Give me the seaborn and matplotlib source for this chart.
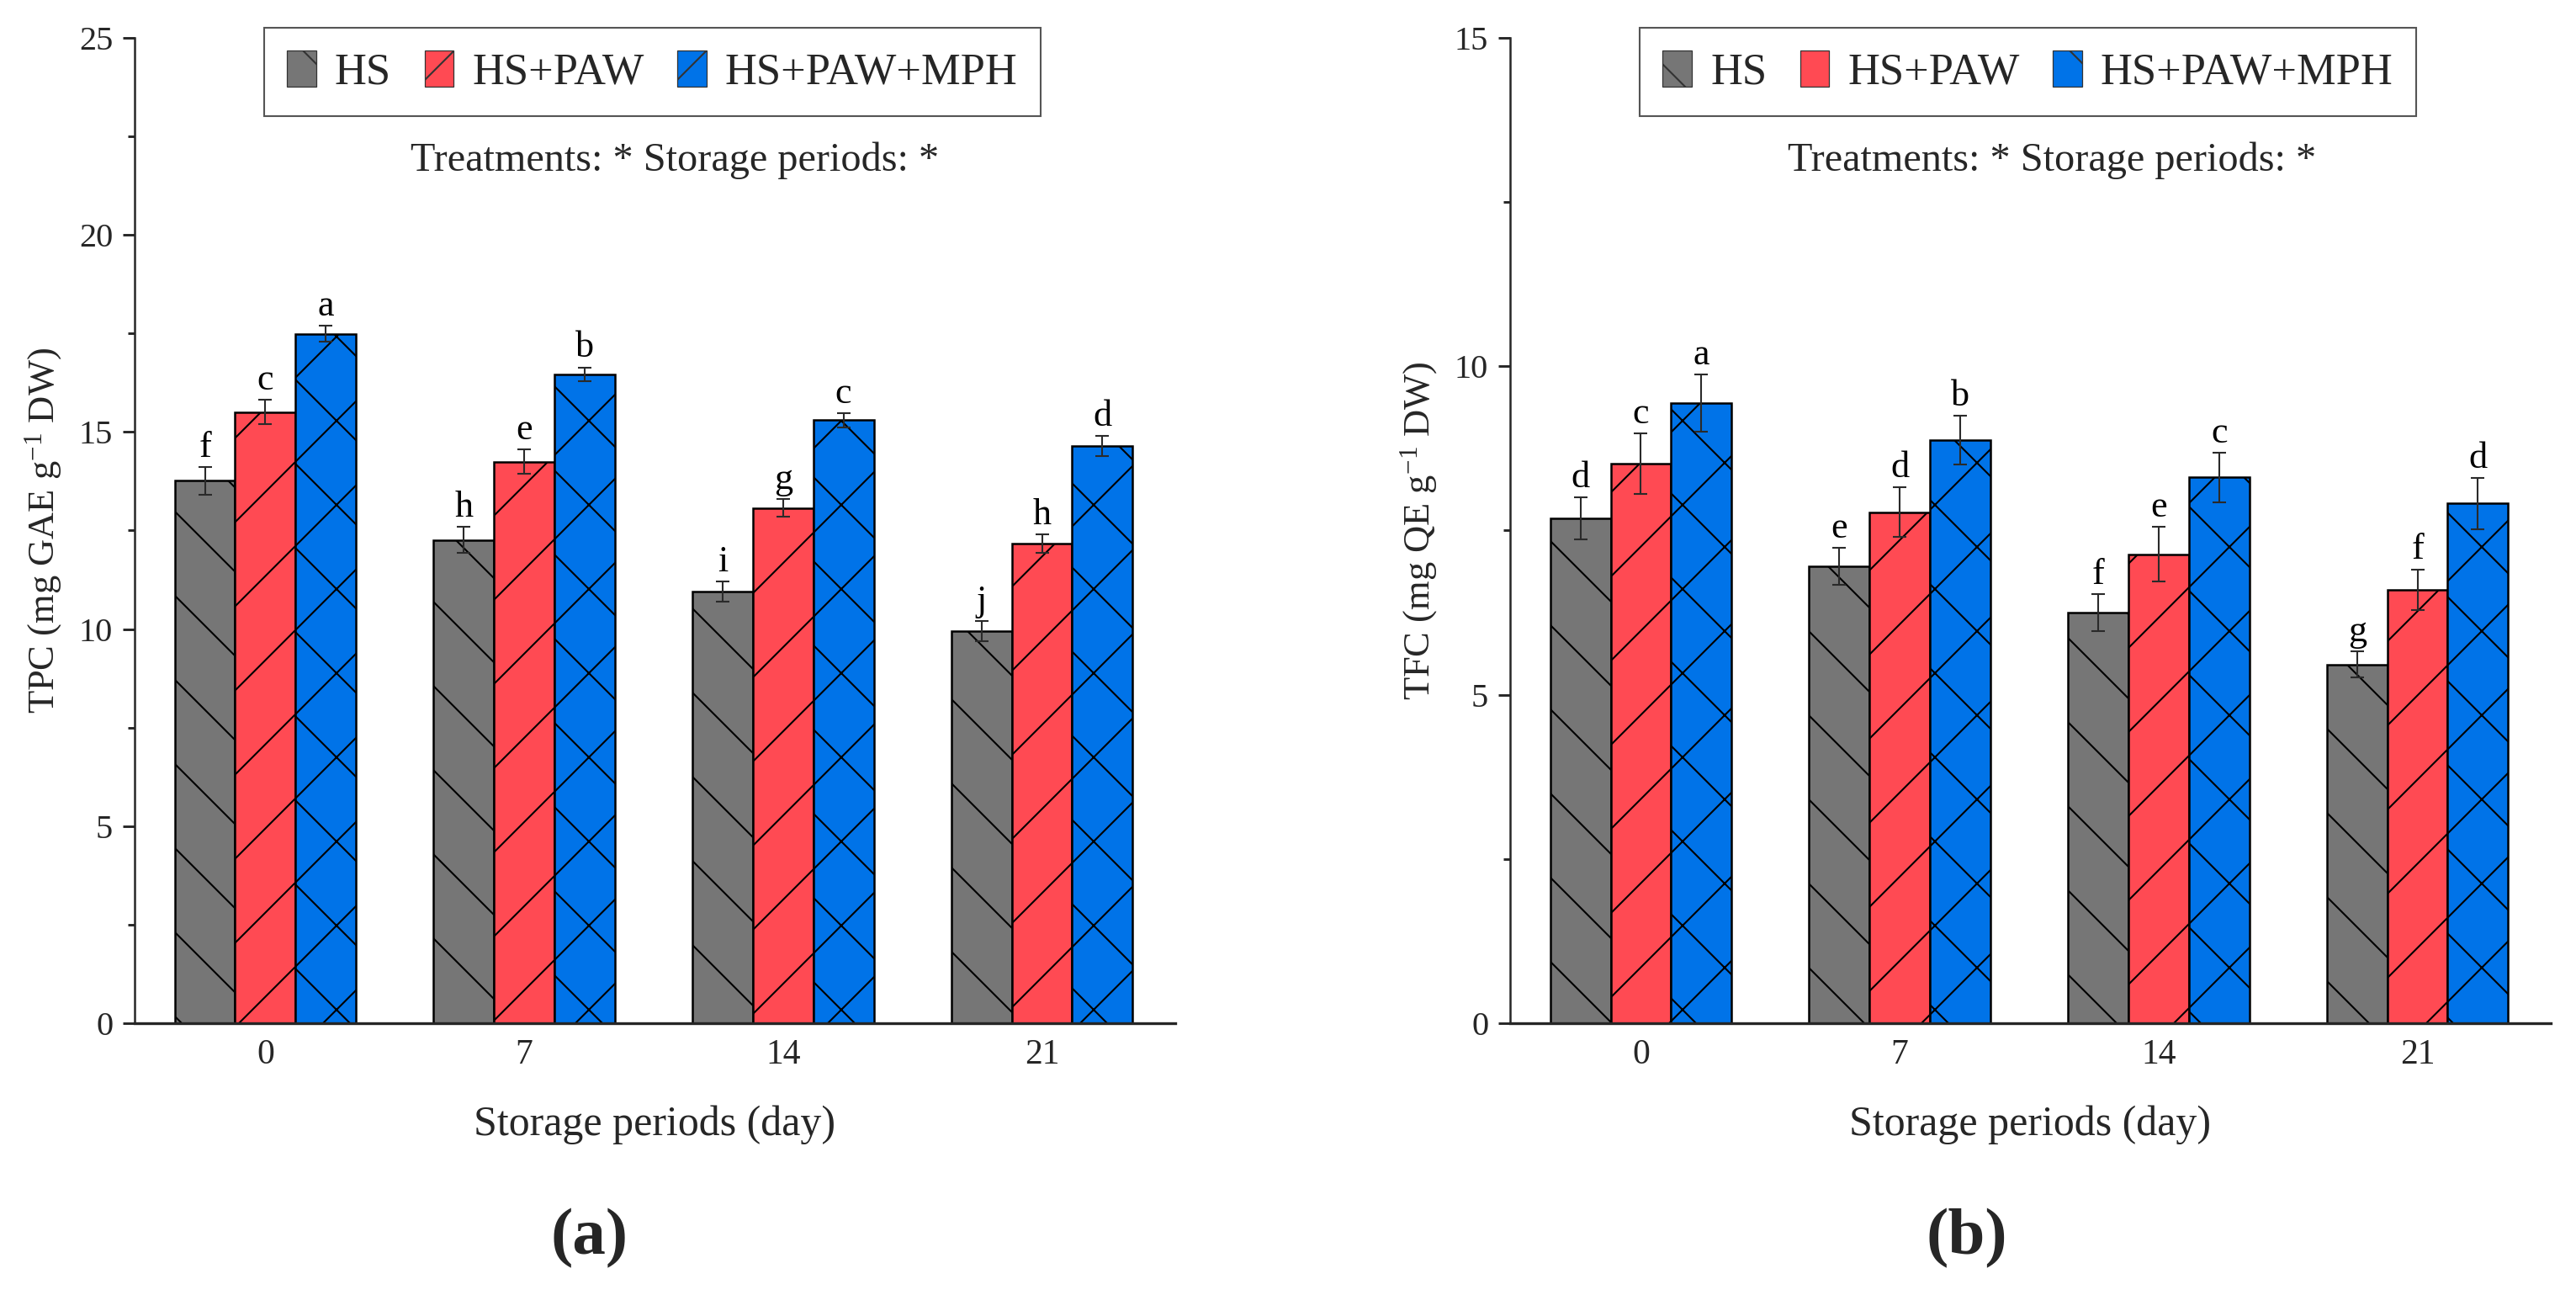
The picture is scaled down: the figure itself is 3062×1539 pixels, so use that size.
import numpy as np
import pandas as pd
import matplotlib
matplotlib.use("Agg")
import matplotlib.pyplot as plt
import matplotlib.patches as mpatches
from matplotlib.container import BarContainer
from matplotlib.ticker import MultipleLocator
import seaborn as sns

# ---------------- data ----------------
days = ["0", "7", "14", "21"]
treatments = ["HS", "HS+PAW", "HS+PAW+MPH"]

tpc_hs = [13.76, 12.26, 10.95, 9.95]
tpc_paw = [15.51, 14.25, 13.07, 12.17]
tpc_mph = [17.49, 16.47, 15.30, 14.65]
tpc_hs_err = [0.35, 0.33, 0.25, 0.25]
tpc_paw_err = [0.30, 0.30, 0.22, 0.23]
tpc_mph_err = [0.20, 0.17, 0.18, 0.25]
tpc_hs_let = ["f", "h", "i", "j"]
tpc_paw_let = ["c", "e", "g", "h"]
tpc_mph_let = ["a", "b", "c", "d"]

tfc_hs = [7.69, 6.96, 6.25, 5.46]
tfc_paw = [8.52, 7.78, 7.14, 6.60]
tfc_mph = [9.44, 8.88, 8.31, 7.91]
tfc_hs_err = [0.32, 0.28, 0.28, 0.20]
tfc_paw_err = [0.46, 0.38, 0.42, 0.31]
tfc_mph_err = [0.44, 0.37, 0.38, 0.39]
tfc_hs_let = ["d", "e", "f", "g"]
tfc_paw_let = ["c", "d", "e", "f"]
tfc_mph_let = ["a", "b", "c", "d"]

colors = ["#767676", "#FF4A53", "#0073E8"]
hatches = ["\\\\", "//", "xx"]

# ---------------- style ----------------
sns.set_style("ticks")
plt.rcParams["font.family"] = ["Liberation Serif", "DejaVu Serif"]
plt.rcParams["mathtext.fontset"] = "custom"
plt.rcParams["mathtext.rm"] = "Liberation Serif"
plt.rcParams["mathtext.it"] = "Liberation Serif:italic"
plt.rcParams["mathtext.bf"] = "Liberation Serif:bold"
plt.rcParams["hatch.linewidth"] = 0.25
plt.rcParams["axes.linewidth"] = 0.35

DPI = 600
fig = plt.figure(figsize=(3062 / DPI, 1539 / DPI), dpi=DPI)
fig.patch.set_facecolor("white")

ax_a = fig.add_axes([0.05225, 0.20988, 0.40399, 0.76088])
ax_b = fig.add_axes([0.58622, 0.20988, 0.40399, 0.76088])


def make_df(hs, paw, mph):
    rows = []
    for t, vals in zip(treatments, [hs, paw, mph]):
        for d, v in zip(days, vals):
            rows.append({"day": d, "treatment": t, "value": v})
    return pd.DataFrame(rows)


def draw_panel(ax, vals, errs, lets, ymax, ylabel, panel_letter, text_x, fig_label_x):
    df = make_df(*vals)
    sns.barplot(data=df, x="day", y="value", hue="treatment", order=days,
                hue_order=treatments, palette=colors, saturation=1, width=0.7,
                edgecolor="black", linewidth=0.3, errorbar=None, legend=False, ax=ax)
    bar_conts = [c for c in ax.containers if isinstance(c, BarContainer)]
    for ci, cont in enumerate(bar_conts):
        bars = sorted(cont.patches, key=lambda p: p.get_x())
        xs = [b.get_x() + b.get_width() / 2 for b in bars]
        ys = [b.get_height() for b in bars]
        for b in bars:
            b.set_hatch(hatches[ci])
        ax.errorbar(xs, ys, yerr=errs[ci], fmt="none", ecolor="#2a2a2a",
                    elinewidth=0.25, capsize=0.95, capthick=0.25, zorder=5)
        for x, y, e, l in zip(xs, ys, errs[ci], lets[ci]):
            ax.annotate(l, (x, y + e), xytext=(0, 1.45), textcoords="offset points",
                        ha="center", va="baseline", fontsize=5.3, color="black")

    ax.set_xlim(-0.505, 3.515)
    ax.set_ylim(0, ymax)
    ax.yaxis.set_major_locator(MultipleLocator(5))
    ax.yaxis.set_minor_locator(MultipleLocator(2.5))
    ax.tick_params(axis="y", which="major", direction="out", length=1.7, width=0.35,
                   pad=1.4, labelsize=4.85)
    ax.tick_params(axis="y", which="minor", direction="out", length=1.0, width=0.35)
    ax.tick_params(axis="x", which="both", length=0, pad=2.2, labelsize=5.0)
    sns.despine(ax=ax)
    ax.spines["left"].set_linewidth(0.3)
    ax.spines["bottom"].set_linewidth(0.4)

    ax.set_xlabel("Storage periods (day)", fontsize=6.0)
    ax.xaxis.set_label_coords(0.5, -0.083)
    ax.set_ylabel(ylabel, fontsize=5.35)
    ax.yaxis.set_label_coords(-0.068, 0.5)

    handles = [mpatches.Patch(facecolor=c, edgecolor="#333333", linewidth=0.15,
                              hatch=h, label=t)
               for c, h, t in zip(colors, hatches, treatments)]
    leg = ax.legend(handles=handles, ncol=3, loc="lower left",
                    bbox_to_anchor=(0.1245, 0.9206, 0.746, 0.088), mode="expand",
                    borderaxespad=0, fontsize=6.3, frameon=True, fancybox=False,
                    handlelength=0.66, handleheight=0.88, handletextpad=0.42,
                    borderpad=0.52, columnspacing=1.0)
    leg.get_frame().set_edgecolor("#555555")
    leg.get_frame().set_linewidth(0.25)
    leg.get_frame().set_facecolor("white")
    leg.get_frame().set_alpha(1)

    fig.text(text_x, 0.8759, "Treatments: * Storage periods: *", ha="center",
             va="center", fontsize=5.8)
    fig.text(fig_label_x, 0.0435, panel_letter, ha="center", va="center",
             fontsize=9.5, fontweight="bold")


draw_panel(ax_a, [tpc_hs, tpc_paw, tpc_mph], [tpc_hs_err, tpc_paw_err, tpc_mph_err],
           [tpc_hs_let, tpc_paw_let, tpc_mph_let], 25,
           r"TPC (mg GAE g$^{-1}$ DW)", "(a)", 0.2619, 0.2289)
draw_panel(ax_b, [tfc_hs, tfc_paw, tfc_mph], [tfc_hs_err, tfc_paw_err, tfc_mph_err],
           [tfc_hs_let, tfc_paw_let, tfc_mph_let], 15,
           r"TFC (mg QE g$^{-1}$ DW)", "(b)", 0.7965, 0.7636)

fig.savefig("out.png", dpi=DPI, facecolor="white")
